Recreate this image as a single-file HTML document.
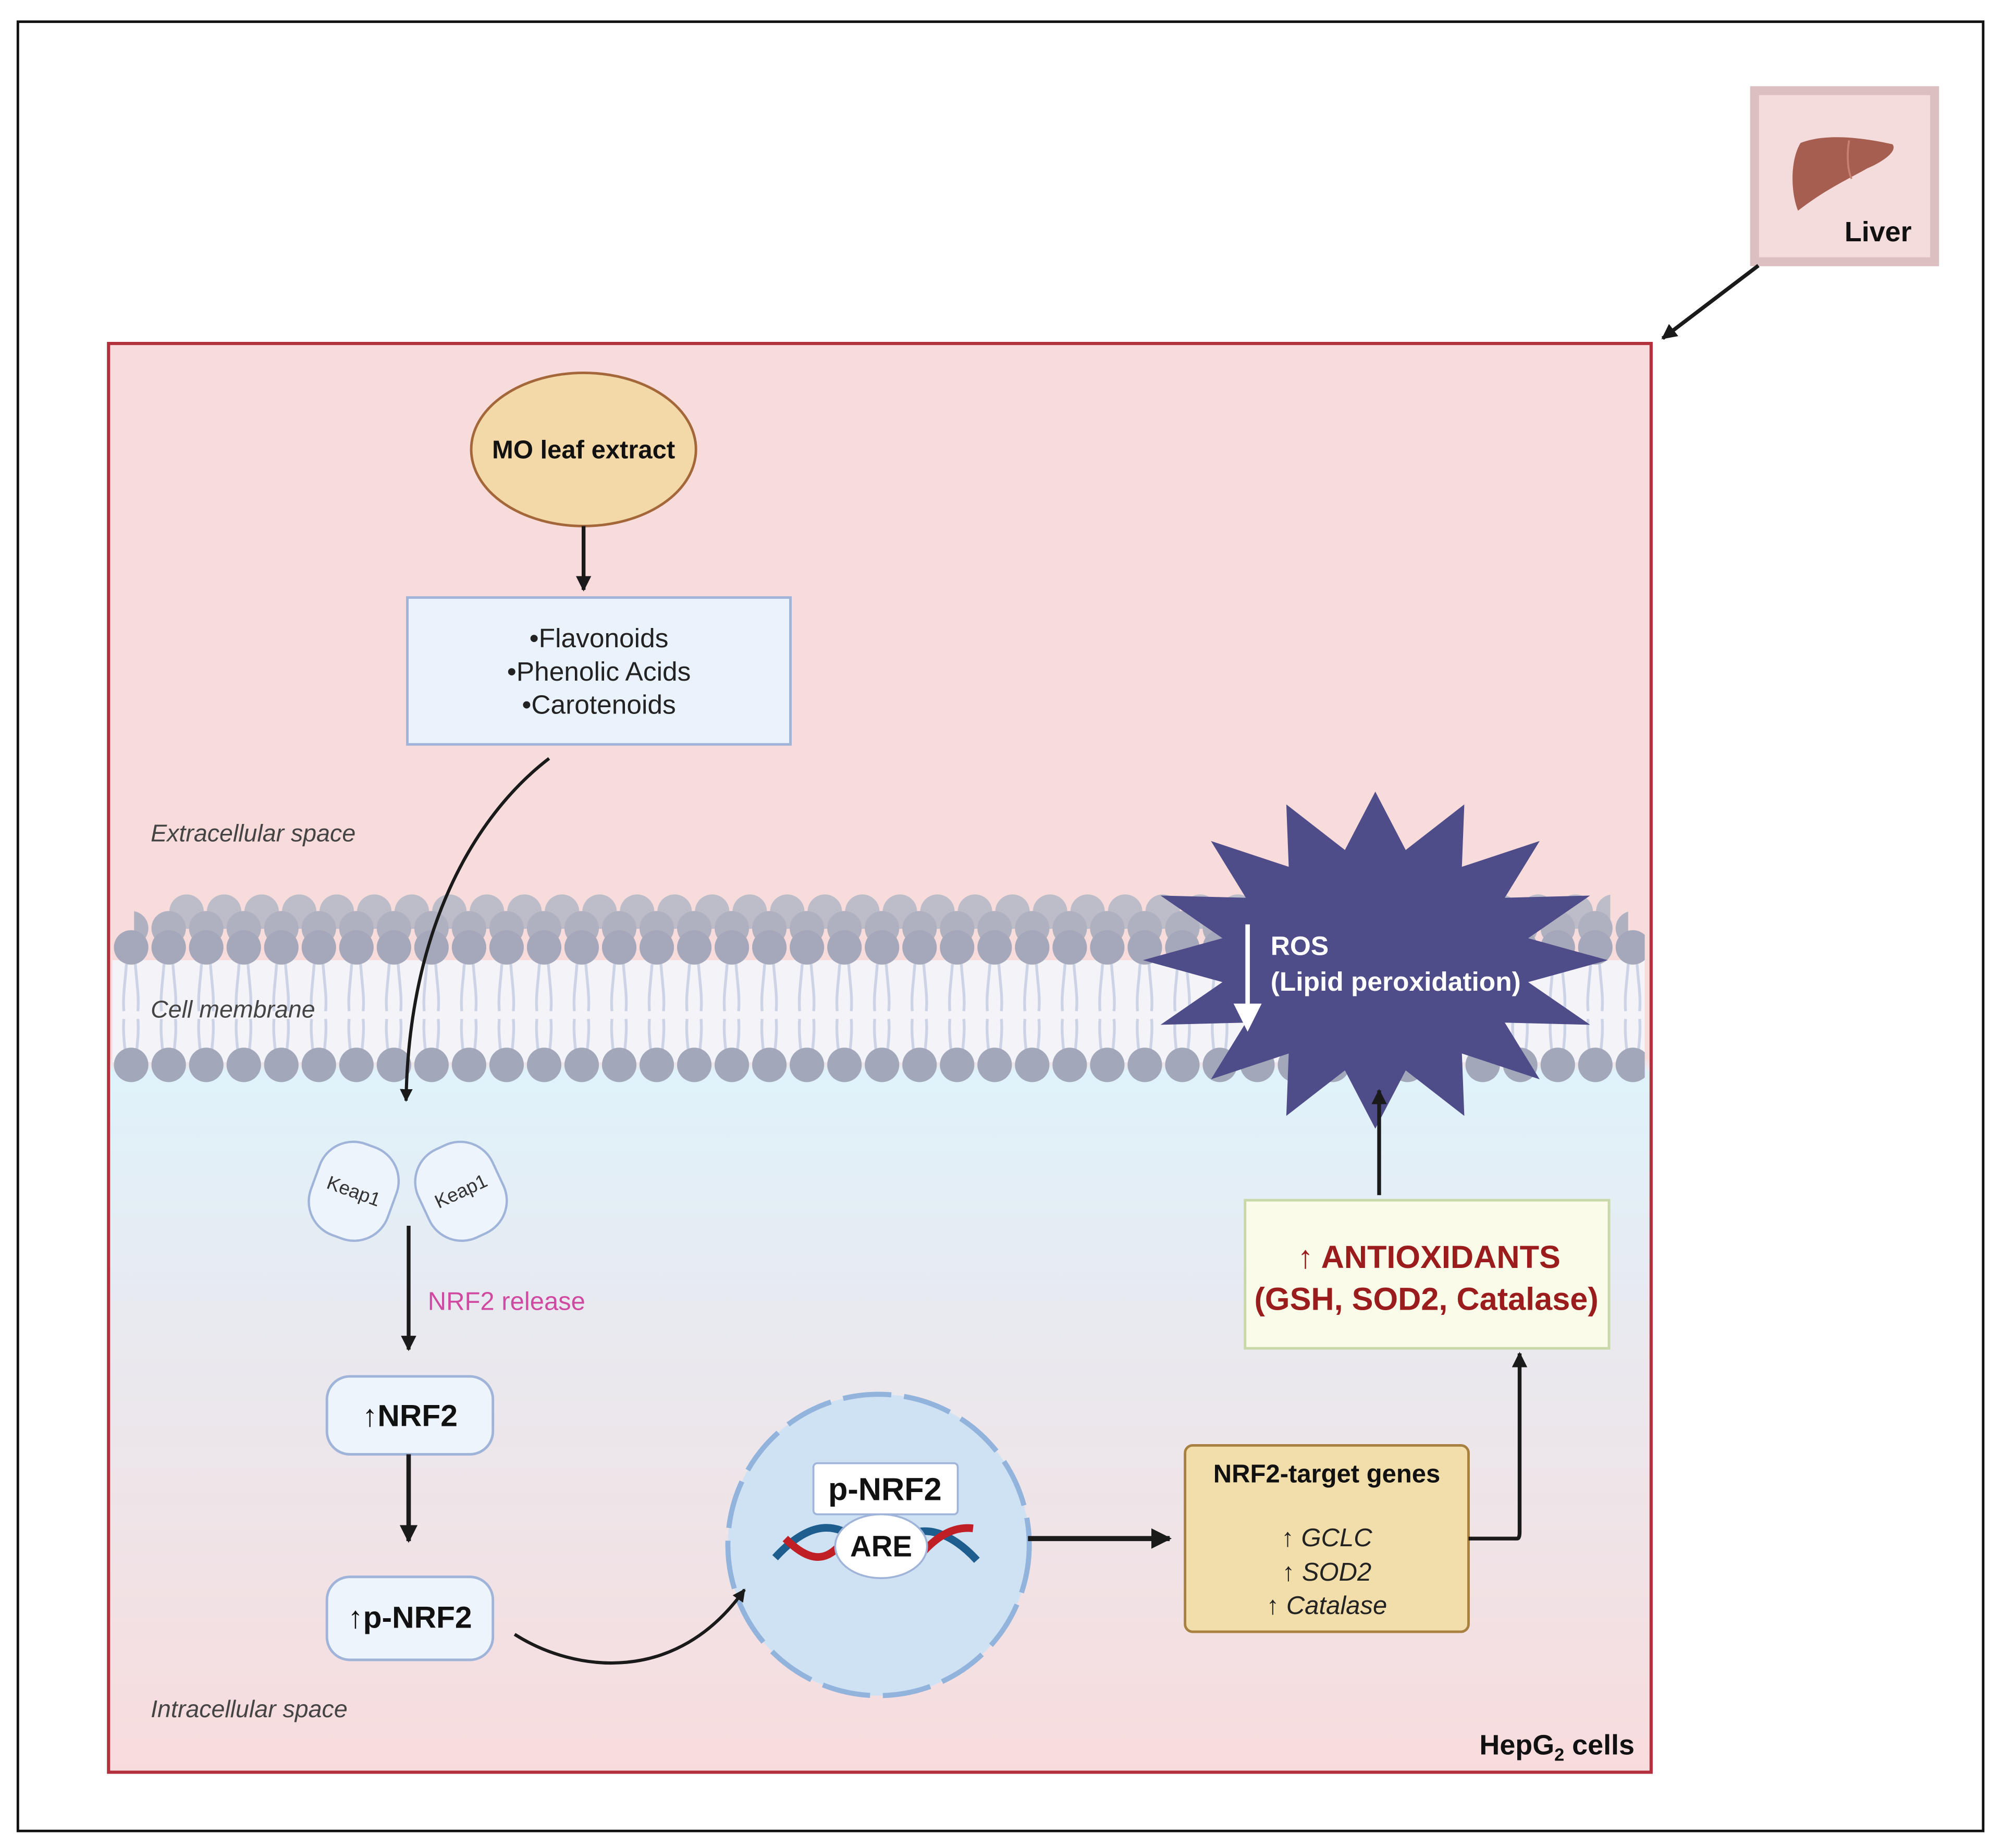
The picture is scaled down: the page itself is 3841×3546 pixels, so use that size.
<!DOCTYPE html>
<html><head><meta charset="utf-8"><style>
html,body{margin:0;padding:0;background:#fff}
svg{display:block}
text{font-family:"Liberation Sans",sans-serif}
</style></head><body>
<svg width="3841" height="3546" viewBox="0 0 1567.76 1447.35" preserveAspectRatio="none" xmlns="http://www.w3.org/2000/svg">
<defs>
<linearGradient id="bg" gradientUnits="userSpaceOnUse" x1="0" y1="269" x2="0" y2="1388">
<stop offset="0" stop-color="#f8dcdc"/>
<stop offset="0.5" stop-color="#f8dcdc"/>
<stop offset="0.51" stop-color="#dff2fb"/>
<stop offset="0.68" stop-color="#e8eaf0"/>
<stop offset="1" stop-color="#f8dcdd"/>
</linearGradient>
<pattern id="hb" x="102" y="700" width="29.4" height="40" patternUnits="userSpaceOnUse"><circle cx="14.7" cy="14" r="13.5" fill="#bdbdc9"/></pattern>
<pattern id="hb2" x="88" y="713" width="29.4" height="40" patternUnits="userSpaceOnUse"><circle cx="14.7" cy="14" r="13.5" fill="#afb1c0"/></pattern>
<pattern id="hf" x="88" y="728" width="29.4" height="40" patternUnits="userSpaceOnUse"><circle cx="14.7" cy="14" r="13.5" fill="#a4a8ba"/></pattern>
<pattern id="hbot" x="88" y="820" width="29.4" height="40" patternUnits="userSpaceOnUse"><circle cx="14.7" cy="14" r="13.5" fill="#a2a8ba"/></pattern>
<pattern id="tails" x="88" y="755" width="29.4" height="80" patternUnits="userSpaceOnUse">
<path d="M11 0 C10 15 8 25 9 37 M18 0 C19 15 21 25 20 37 M9 43 C8 55 10 65 11 80 M20 43 C21 55 19 65 18 80" stroke="#cdd3e6" stroke-width="2.2" fill="none"/></pattern>
<marker id="ah" viewBox="0 0 10 10" refX="9" refY="5" markerWidth="4" markerHeight="4" orient="auto"><path d="M0 0 L10 5 L0 10 Z" fill="#1a1a1a"/></marker>
</defs>
<rect x="14" y="17" width="1539" height="1417" fill="#fff" stroke="#111" stroke-width="2"/>
<!-- Liver -->
<rect x="1374" y="71" width="141" height="134" fill="#f5dcdc" stroke="#dbbfc1" stroke-width="7"/>
<path d="M1410 112 C1430 104 1460 108 1482 113 C1486 118 1476 126 1462 132 C1448 140 1430 148 1408 165 C1402 150 1402 125 1410 112 Z" fill="#a65e50"/>
<path d="M1448 110 C1446 122 1447 134 1450 140" stroke="#c88070" stroke-width="1.5" fill="none"/>
<text x="1497" y="189" font-size="22" font-weight="bold" text-anchor="end" fill="#111">Liver</text>
<line x1="1377" y1="208" x2="1302" y2="265" stroke="#1a1a1a" stroke-width="3" marker-end="url(#ah)"/>
<!-- main -->
<rect x="85" y="269" width="1208" height="1119" fill="url(#bg)" stroke="#b3303d" stroke-width="2.5"/>
<!-- membrane -->
<rect x="88" y="752" width="1200" height="80" fill="#f4f4f8"/>
<rect x="88" y="755" width="1200" height="80" fill="url(#tails)"/>
<rect x="131" y="700" width="1130" height="28" fill="url(#hb)"/>
<rect x="105" y="713" width="1170" height="28" fill="url(#hb2)"/>
<rect x="88" y="728" width="1200" height="28" fill="url(#hf)"/>
<rect x="88" y="820" width="1200" height="28" fill="url(#hbot)"/>
<text x="118" y="659" font-size="19" font-style="italic" fill="#444">Extracellular space</text>
<text x="118" y="797" font-size="19" font-style="italic" fill="#444">Cell membrane</text>
<text x="118" y="1345" font-size="19" font-style="italic" fill="#444">Intracellular space</text>
<!-- ROS star -->
<polygon points="1077,620 1100.8,665.7 1146.7,630 1144.8,678.9 1205.7,658.7 1178.4,703.1 1245.2,701.4 1196.7,734.8 1259,752 1196.7,769.2 1245.2,802.6 1178.4,800.9 1205.7,845.3 1144.8,825.1 1146.7,874 1100.8,838.3 1077,884 1053.2,838.3 1007.3,874 1009.2,825.1 948.3,845.3 975.6,800.9 908.8,802.6 957.3,769.2 895,752 957.3,734.8 908.8,701.4 975.6,703.1 948.3,658.7 1009.2,678.9 1007.3,630 1053.2,665.7" fill="#4f4c8a"/>
<line x1="977" y1="724" x2="977" y2="790" stroke="#fff" stroke-width="3.5"/>
<path d="M966 786 L988 786 L977 808 Z" fill="#fff"/>
<text x="995" y="748" font-size="21" font-weight="bold" fill="#fff">ROS</text>
<text x="995" y="776" font-size="21" font-weight="bold" fill="#fff">(Lipid peroxidation)</text>
<!-- MO -->
<ellipse cx="457" cy="352" rx="88" ry="60" fill="#f3d8a8" stroke="#a3673a" stroke-width="2"/>
<text x="457" y="359" font-size="20" font-weight="bold" text-anchor="middle" fill="#111">MO leaf extract</text>
<line x1="457" y1="412" x2="457" y2="462" stroke="#1a1a1a" stroke-width="3" marker-end="url(#ah)"/>
<rect x="319" y="468" width="300" height="115" fill="#eaf2fc" stroke="#9fb4d8" stroke-width="2"/>
<text font-size="21" text-anchor="middle" fill="#222"><tspan x="469" y="507">•Flavonoids</tspan><tspan x="469" y="533">•Phenolic Acids</tspan><tspan x="469" y="559">•Carotenoids</tspan></text>
<path d="M430 594 C370 640 320 730 318 862" stroke="#1a1a1a" stroke-width="2.5" fill="none" marker-end="url(#ah)"/>
<!-- Keap1 -->
<g transform="translate(277,933) rotate(20)"><rect x="-32" y="-38" width="64" height="76" rx="28" fill="#eef4fc" stroke="#9fb4d8" stroke-width="1.8"/><text x="0" y="5" font-size="15" text-anchor="middle" fill="#333">Keap1</text></g>
<g transform="translate(361,933) rotate(-25)"><rect x="-32" y="-38" width="64" height="76" rx="28" fill="#eef4fc" stroke="#9fb4d8" stroke-width="1.8"/><text x="0" y="5" font-size="15" text-anchor="middle" fill="#333">Keap1</text></g>
<line x1="320" y1="960" x2="320" y2="1057" stroke="#1a1a1a" stroke-width="3" marker-end="url(#ah)"/>
<text x="335" y="1026" font-size="20" fill="#cf4aa0">NRF2 release</text>
<rect x="256" y="1078" width="130" height="61" rx="18" fill="#eef4fc" stroke="#9fb4d8" stroke-width="2"/>
<text x="321" y="1117" font-size="24" font-weight="bold" text-anchor="middle" fill="#111">↑NRF2</text>
<line x1="320" y1="1139" x2="320" y2="1207" stroke="#1a1a1a" stroke-width="3.5" marker-end="url(#ah)"/>
<rect x="256" y="1235" width="130" height="65" rx="18" fill="#eef4fc" stroke="#9fb4d8" stroke-width="2"/>
<text x="321" y="1275" font-size="24" font-weight="bold" text-anchor="middle" fill="#111">↑p-NRF2</text>
<!-- nucleus -->
<circle cx="688" cy="1210" r="118" fill="#cfe2f3" stroke="#92b4dc" stroke-width="4" stroke-dasharray="38 10"/>
<path d="M403 1280 C450 1310 530 1320 583 1245" stroke="#1a1a1a" stroke-width="2.5" fill="none" marker-end="url(#ah)"/>
<path d="M607 1220 C630 1195 650 1190 670 1205 M700 1210 C720 1190 745 1200 765 1222" stroke="#1d5e8e" stroke-width="6" fill="none"/>
<path d="M615 1205 C635 1225 650 1225 665 1200 M715 1225 C730 1205 745 1195 762 1197" stroke="#c01f25" stroke-width="6" fill="none"/>
<rect x="637" y="1146" width="113" height="40" rx="3" fill="#fff" stroke="#9fb4d8" stroke-width="1.5"/>
<text x="693" y="1175" font-size="25" font-weight="bold" text-anchor="middle" fill="#111">p-NRF2</text>
<ellipse cx="690" cy="1211" rx="36" ry="25" fill="#fff" stroke="#9fb4d8" stroke-width="1.5"/>
<text x="690" y="1219" font-size="23" font-weight="bold" text-anchor="middle" fill="#111">ARE</text>
<line x1="805" y1="1205" x2="916" y2="1205" stroke="#1a1a1a" stroke-width="4" marker-end="url(#ah)"/>
<!-- target genes -->
<rect x="928" y="1132" width="222" height="146" rx="6" fill="#f2deaa" stroke="#a88040" stroke-width="2"/>
<text x="1039" y="1161" font-size="20" font-weight="bold" text-anchor="middle" fill="#111">NRF2-target genes</text>
<text font-size="20" font-style="italic" text-anchor="middle" fill="#222"><tspan x="1039" y="1211">↑ GCLC</tspan><tspan x="1039" y="1238">↑ SOD2</tspan><tspan x="1039" y="1264">↑ Catalase</tspan></text>
<path d="M1150 1205 L1188 1205 Q1190 1205 1190 1200 L1190 1060" stroke="#1a1a1a" stroke-width="3" fill="none" marker-end="url(#ah)"/>
<!-- antioxidants -->
<rect x="975" y="940" width="285" height="116" fill="#fbfbea" stroke="#c9d8a8" stroke-width="2"/>
<text x="1119" y="993" font-size="25" font-weight="bold" text-anchor="middle" fill="#9b1c1c">↑ ANTIOXIDANTS</text>
<text x="1117" y="1026" font-size="25" font-weight="bold" text-anchor="middle" fill="#9b1c1c">(GSH, SOD2, Catalase)</text>
<line x1="1080" y1="936" x2="1080" y2="854" stroke="#1a1a1a" stroke-width="3" marker-end="url(#ah)"/>
<text x="1280" y="1374" font-size="22" font-weight="bold" text-anchor="end" fill="#111">HepG<tspan font-size="14" dy="5">2</tspan><tspan dy="-5"> cells</tspan></text>
</svg>
</body></html>
